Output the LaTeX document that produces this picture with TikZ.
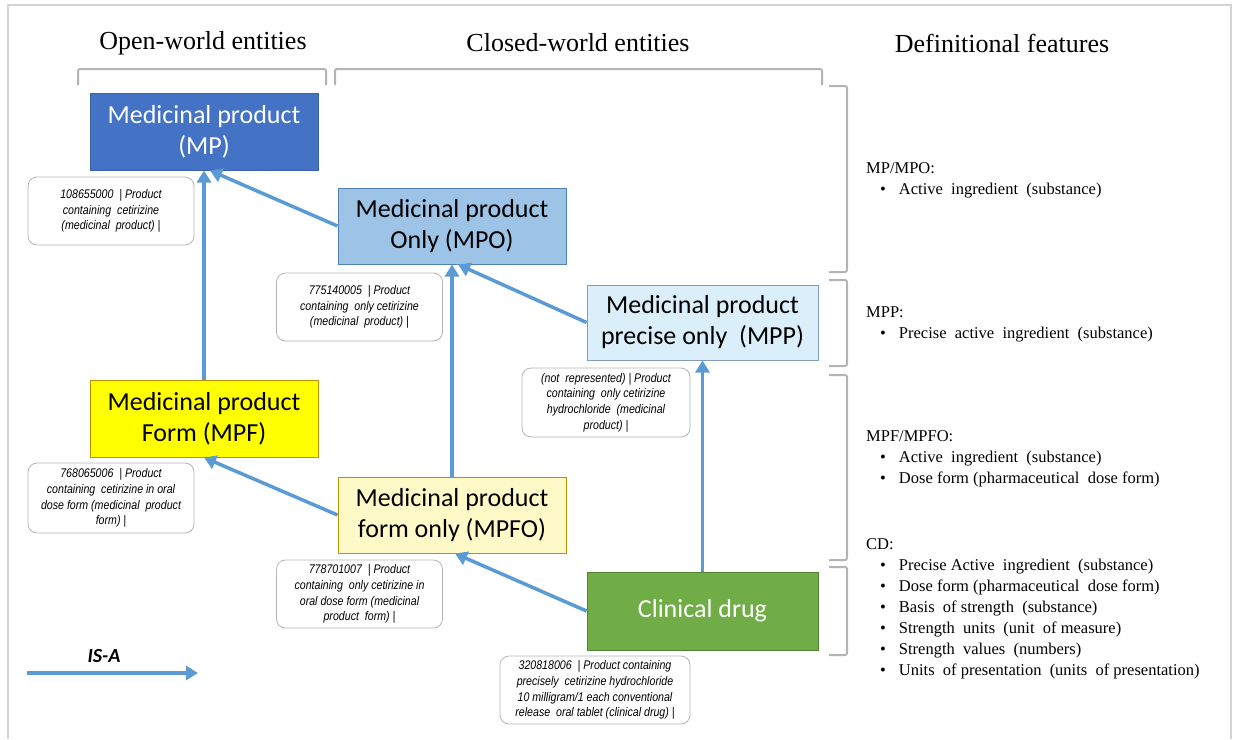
\documentclass[tikz,border=0pt]{standalone}
\usepackage{fontspec}
\setmainfont{Liberation Serif}
\newfontfamily\boxfont{Carlito}
\newfontfamily\notefont{Liberation Sans}[FakeStretch=0.85]
\usetikzlibrary{arrows.meta, positioning}

\definecolor{isaBlue}{HTML}{5B9BD5}
\definecolor{bracketGray}{HTML}{B4B4B4}
\definecolor{frameGray}{HTML}{D4D4D4}
\definecolor{mpFill}{HTML}{4472C4}
\definecolor{mpEdge}{HTML}{3A62A8}
\definecolor{mpoFill}{HTML}{9DC3E6}
\definecolor{mpoEdge}{HTML}{4F81B5}
\definecolor{mppFill}{HTML}{DAEFFA}
\definecolor{mppEdge}{HTML}{7F9DB9}
\definecolor{mpfFill}{HTML}{FFFF00}
\definecolor{mpfoFill}{HTML}{FFF9C8}
\definecolor{formEdge}{HTML}{BF9000}
\definecolor{cdFill}{HTML}{70AD47}
\definecolor{cdEdge}{HTML}{548235}

\newcommand{\defitem}[1]{\\\hspace*{14pt}\textbullet\hspace{13pt}#1}

\tikzset{
    entity/.style={draw, line width=1pt, minimum width=228pt, minimum height=77pt,
        inner sep=0pt, align=center, font=\boxfont\fontsize{26}{31}\selectfont},
    snomed/.style={draw=bracketGray, line width=0.8pt, rounded corners=9pt, fill=white,
        minimum width=166pt, minimum height=68pt, inner sep=0pt, align=center,
        font=\notefont\itshape\fontsize{12.5}{15.7}\selectfont},
    isa/.style={draw=isaBlue, line width=3.5pt, -{Triangle[length=12pt,width=14pt]}},
    bracket/.style={draw=bracketGray, line width=2pt, rounded corners=2pt},
    heading/.style={font=\fontsize{26}{30}\selectfont},
    features/.style={anchor=north west, align=left, inner sep=0pt,
        font=\fontsize{16.5}{21}\selectfont}
}

\begin{document}
\begin{tikzpicture}[x=1pt, y=-1pt]
    \useasboundingbox (0,0) rectangle (1238,739);
    \draw[frameGray, line width=1.5pt] (8,739) -- (8,5) -- (1231,5) -- (1231,739);

    \node[heading] (openHead) at (203,43) {Open-world entities};
    \node[heading] (closedHead) at (578,43) {Closed-world entities};
    \node[heading] (defHead) at (1002,43) {Definitional features};

    \draw[bracket] (78,85) -- (78,69) -- (326,69) -- (326,85);
    \draw[bracket] (335,85) -- (335,69) -- (822,69) -- (822,85);
    \draw[bracket] (829,86) -- (847,86) -- (847,272) -- (829,272);
    \draw[bracket] (829,280) -- (847,280) -- (847,366) -- (829,366);
    \draw[bracket] (829,375) -- (847,375) -- (847,560) -- (829,560);
    \draw[bracket] (829,567) -- (847,567) -- (847,655) -- (829,655);

    \node[entity, fill=mpFill, draw=mpEdge, text=white] (MP) at (204,131.5) {Medicinal product\\(MP)};
    \node[entity, fill=mpoFill, draw=mpoEdge, minimum height=76pt] (MPO) at (452,226) {Medicinal product\\Only (MPO)};
    \node[entity, fill=mppFill, draw=mppEdge, minimum width=231pt, minimum height=75pt] (MPP) at (702.5,322.5) {Medicinal product\\precise only~~(MPP)};
    \node[entity, fill=mpfFill, draw=formEdge] (MPF) at (204,418.5) {Medicinal product\\Form (MPF)};
    \node[entity, fill=mpfoFill, draw=formEdge, minimum height=76pt] (MPFO) at (452,515) {Medicinal product\\form only (MPFO)};
    \node[entity, fill=cdFill, draw=cdEdge, text=white, minimum width=231pt, minimum height=78pt] (CD) at (702.5,611) {Clinical drug};

    \node[snomed] (noteMP) at (111,211) {108655000~~| Product\\containing~~cetirizine\\(medicinal~~product) |};
    \node[snomed] (noteMPO) at (359.5,307) {775140005~~| Product\\containing~~only cetirizine\\(medicinal~~product) |};
    \node[snomed, minimum width=168pt, minimum height=69pt] (noteMPP) at (606,402.5) {(not~~represented) | Product\\containing~~only cetirizine\\hydrochloride~~(medicinal\\product) |};
    \node[snomed, minimum height=70pt] (noteMPF) at (111,498) {768065006~~| Product\\containing~~cetirizine in oral\\dose form (medicinal~~product\\form) |};
    \node[snomed] (noteMPFO) at (359.5,594) {778701007~~| Product\\containing~~only cetirizine in\\oral dose form (medicinal\\product~~form) |};
    \node[snomed, minimum width=190pt] (noteCD) at (595,690) {320818006~~| Product containing\\precisely~~cetirizine hydrochloride\\10 milligram/1 each conventional\\release~~oral tablet (clinical drug) |};

    \draw[isa] (MPF.north) -- (MP.south);
    \draw[isa] (MPO.west) -- ([xshift=6pt]MP.south);
    \draw[isa] (MPFO.north) -- (MPO.south);
    \draw[isa] (MPP.west) -- ([xshift=6pt]MPO.south);
    \draw[isa] (MPFO.west) -- (MPF.south);
    \draw[isa] (CD.west) -- ([xshift=3pt]MPFO.south);
    \draw[isa] (CD.north) -- (MPP.south);

    \node[features] (defMP) at (866,162) {MP/MPO:\defitem{Active~~ingredient~~(substance)}};
    \node[features] (defMPP) at (866,306) {MPP:\defitem{Precise~~active~~ingredient~~(substance)}};
    \node[features] (defMPF) at (866,430) {MPF/MPFO:\defitem{Active~~ingredient~~(substance)}\defitem{Dose form (pharmaceutical~~dose form)}};
    \node[features] (defCD) at (866,538) {CD:\defitem{Precise Active~~ingredient~~(substance)}\defitem{Dose form (pharmaceutical~~dose form)}\defitem{Basis~~of strength~~(substance)}\defitem{Strength~~units~~(unit~~of measure)}\defitem{Strength~~values~~(numbers)}\defitem{Units~~of presentation~~(units~~of presentation)}};

    \coordinate (legendStart) at (27,673);
    \coordinate (legendEnd) at (198,673);
    \node[font=\boxfont\bfseries\itshape\fontsize{20}{24}\selectfont] (isaLabel) at (104,656) {IS-A};
    \draw[isa] (legendStart) -- (legendEnd);
\end{tikzpicture}
\end{document}
